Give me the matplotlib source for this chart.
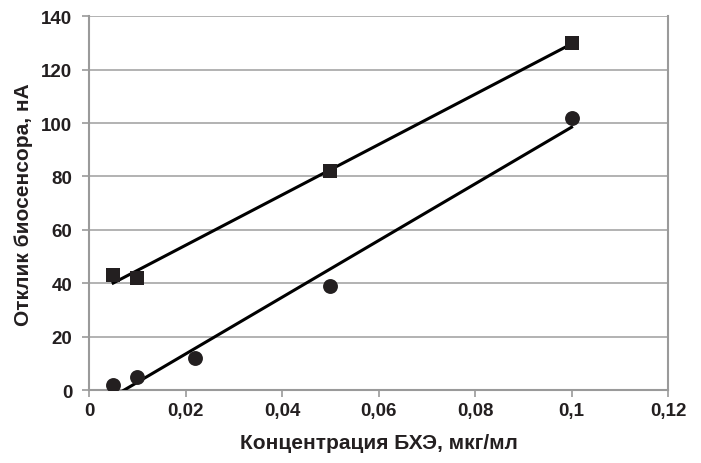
import matplotlib.pyplot as plt
import numpy as np
from matplotlib.ticker import FuncFormatter

# данные
x_sq = [0.005, 0.01, 0.05, 0.1]
y_sq = [43, 42, 82, 130]
x_ci = [0.005, 0.01, 0.022, 0.05, 0.1]
y_ci = [2, 5, 12, 39, 102]

plt.rcParams['font.family'] = ['Liberation Sans', 'DejaVu Sans']
plt.rcParams['font.weight'] = 'bold'

fig = plt.figure(figsize=(7.01, 4.64), dpi=100)
ax = fig.add_axes([0.127, 0.157, 0.826, 0.806])

dark = '#231f20'

# линейные тренды (как в Excel)
for xs, ys in [(x_sq, y_sq), (x_ci, y_ci)]:
    k, b = np.polyfit(xs, ys, 1)
    xx = np.array([min(xs), max(xs)])
    ax.plot(xx, k * xx + b, color='black', lw=2.2, zorder=3)

ax.scatter(x_sq, y_sq, marker='s', s=105, color=dark, zorder=4, linewidths=0)
ax.scatter(x_ci, y_ci, marker='o', s=115, color=dark, zorder=4, linewidths=0)

ax.set_xlim(0, 0.12)
ax.set_ylim(0, 140)
ax.set_xticks(np.arange(0, 0.121, 0.02))
ax.set_yticks(np.arange(0, 141, 20))

def fmt(v, pos):
    s = ('%.2f' % v).rstrip('0').rstrip('.')
    return s.replace('.', ',')

ax.xaxis.set_major_formatter(FuncFormatter(fmt))

ax.grid(axis='y', color='#a6a6a6', lw=1.2)
ax.set_axisbelow(True)
for sp in ['left', 'right', 'bottom']:
    ax.spines[sp].set_color('#9a9a9a')
    ax.spines[sp].set_linewidth(1.5)
ax.spines['top'].set_visible(False)

ax.tick_params(axis='both', colors='#9a9a9a', labelcolor=dark, labelsize=13.5, length=5, width=1.2)
ax.tick_params(axis='y', pad=7)
for lab in ax.get_xticklabels() + ax.get_yticklabels():
    lab.set_fontweight('bold')

ax.set_xlabel('Концентрация БХЭ, мкг/мл', fontsize=15, fontweight='bold', color=dark, labelpad=10)
ax.set_ylabel('Отклик биосенсора, нА', fontsize=15, fontweight='bold', color=dark, labelpad=6)

fig.savefig('out.png', dpi=100)
